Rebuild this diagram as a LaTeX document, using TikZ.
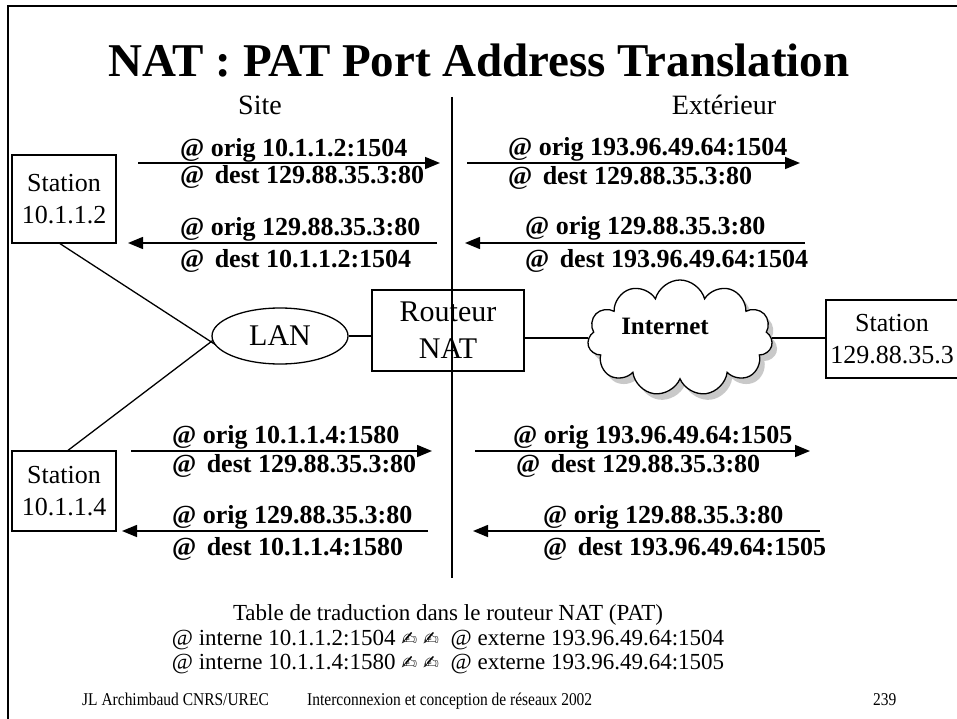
\documentclass[tikz,border=0pt]{standalone}
\usepackage{fontspec}
\setmainfont{Liberation Serif}
\newfontfamily\symb{DejaVu Sans}
\usetikzlibrary{arrows.meta,shapes.geometric,shapes.symbols,shadows,backgrounds}
\begin{document}
\begin{tikzpicture}[x=1pt,y=-1pt,
  box/.style={draw,line width=1.3pt,rectangle,inner sep=0pt,align=center,fill=white},
  lbl/.style={anchor=base west,inner sep=0pt,font=\fontsize{26}{30}\selectfont\bfseries},
  arr/.style={line width=1.5pt,-{Triangle[length=15pt,width=12pt]}},
  link/.style={line width=1.3pt},
  tbl/.style={anchor=base,inner sep=0pt,font=\fontsize{23}{26}\selectfont},
  foot/.style={anchor=base west,inner sep=0pt,font=\fontsize{18}{20}\selectfont},
  hd/.style={anchor=base,inner sep=0pt,font=\fontsize{28}{30}\selectfont}
]
\useasboundingbox (0,0) rectangle (957,719);
% frame
\coordinate (fbl) at (8,719);
\coordinate (ftl) at (8,6);
\coordinate (ftr) at (957,6);
\draw[line width=1.5pt] (fbl) -- (ftl) -- (ftr);

% title and headings
\node[anchor=base,inner sep=0pt,font=\fontsize{47}{50}\selectfont\bfseries] (title) at (479,77) {NAT : PAT Port Address Translation};
\node[hd] (site) at (260,115) {Site};
\node[hd] (ext) at (724,115) {Extérieur};

% nodes
\node[box,minimum width=104,minimum height=88,font=\fontsize{26}{32}\selectfont] (s1) at (64,199) {Station\\10.1.1.2};
\node[box,minimum width=104,minimum height=80,font=\fontsize{26}{32}\selectfont] (s2) at (64,491) {Station\\10.1.1.4};
\node[box,minimum width=132,minimum height=78,font=\fontsize{26}{32}\selectfont] (s3) at (892,339) {Station\\129.88.35.3};
\node[draw,ellipse,line width=1.3pt,minimum width=136,minimum height=56,inner sep=0pt,fill=white,font=\fontsize{30}{34}\selectfont] (lan) at (280,336) {LAN};
\node[box,minimum width=152,minimum height=81,font=\fontsize{30}{37}\selectfont] (router) at (448,330.5) {Routeur\\NAT};
\node[cloud,cloud puffs=11,aspect=1.6,draw,line width=1.3pt,fill=white,minimum width=185,minimum height=116,inner sep=0pt,
  drop shadow={shadow xshift=5pt,shadow yshift=-6pt,fill=gray!85}] (cloud) at (680,338) {};
\node[anchor=base,inner sep=0pt,font=\fontsize{25}{28}\selectfont\bfseries] (inet) at (665,334) {Internet};

% links (behind shapes)
\coordinate (lanA) at (216,345);
\coordinate (lanB) at (216,338);
\begin{scope}[on background layer]
\draw[link] ([xshift=-4pt]s1.south) -- (lanA);
\draw[link] ([xshift=4pt]s2.north) -- (lanB);
\draw[link] (lan.east) -- (router.west |- lan.east);
\draw[link] (router.east |- cloud.west) -- (cloud.west);
\draw[link] (cloud.east) -- (s3.west |- cloud.east);
\end{scope}

% separator
\coordinate (vtop) at (452,97);
\coordinate (vbot) at (452,578);
\draw[link] (vtop) -- (vbot);

% arrows
\coordinate (a1s) at (138,163); \coordinate (a1e) at (440,163);
\coordinate (a2s) at (437,243); \coordinate (a2e) at (128,243);
\coordinate (a3s) at (467,163); \coordinate (a3e) at (800,163);
\coordinate (a4s) at (805,243); \coordinate (a4e) at (465,243);
\coordinate (a5s) at (131,451); \coordinate (a5e) at (432,451);
\coordinate (a6s) at (428,531); \coordinate (a6e) at (122,531);
\coordinate (a7s) at (475,451); \coordinate (a7e) at (810,451);
\coordinate (a8s) at (820,531); \coordinate (a8e) at (473,531);
\draw[arr] (a1s) -- (a1e);
\draw[arr] (a2s) -- (a2e);
\draw[arr] (a3s) -- (a3e);
\draw[arr] (a4s) -- (a4e);
\draw[arr] (a5s) -- (a5e);
\draw[arr] (a6s) -- (a6e);
\draw[arr] (a7s) -- (a7e);
\draw[arr] (a8s) -- (a8e);

% labels
\node[lbl] (l1o) at (180,157) {@ orig 10.1.1.2:1504};
\node[lbl] (l1d) at (180,184) {@\hspace{0.4em}dest 129.88.35.3:80};
\node[lbl] (l2o) at (180,235) {@ orig 129.88.35.3:80};
\node[lbl] (l2d) at (180,267) {@\hspace{0.4em}dest 10.1.1.2:1504};
\node[lbl] (l3o) at (508,156) {@ orig 193.96.49.64:1504};
\node[lbl] (l3d) at (508,185) {@\hspace{0.4em}dest 129.88.35.3:80};
\node[lbl] (l4o) at (525,234) {@ orig 129.88.35.3:80};
\node[lbl] (l4d) at (525,267) {@\hspace{0.4em}dest 193.96.49.64:1504};
\node[lbl] (l5o) at (172,443) {@ orig 10.1.1.4:1580};
\node[lbl] (l5d) at (172,472) {@\hspace{0.4em}dest 129.88.35.3:80};
\node[lbl] (l6o) at (172,523) {@ orig 129.88.35.3:80};
\node[lbl] (l6d) at (172,555) {@\hspace{0.4em}dest 10.1.1.4:1580};
\node[lbl] (l7o) at (513,443) {@ orig 193.96.49.64:1505};
\node[lbl] (l7d) at (516,472) {@\hspace{0.4em}dest 129.88.35.3:80};
\node[lbl] (l8o) at (543,523) {@ orig 129.88.35.3:80};
\node[lbl] (l8d) at (543,555) {@\hspace{0.4em}dest 193.96.49.64:1505};

% table
\node[tbl] (t1) at (448,620) {Table de traduction dans le routeur NAT (PAT)};
\node[tbl] (t2) at (448,645) {@ interne 10.1.1.2:1504 {\symb\fontsize{19}{19}\selectfont ✍\ ✍}\ \ @ externe 193.96.49.64:1504};
\node[tbl] (t3) at (448,669) {@ interne 10.1.1.4:1580 {\symb\fontsize{19}{19}\selectfont ✍\ ✍}\ \ @ externe 193.96.49.64:1505};

% footer
\node[foot] (f1) at (82,705) {\scalebox{0.86}[1]{JL Archimbaud CNRS/UREC}};
\node[foot] (f2) at (307,705) {\scalebox{0.86}[1]{Interconnexion et conception de réseaux 2002}};
\node[foot] (f3) at (873,705) {\scalebox{0.86}[1]{239}};
\end{tikzpicture}
\end{document}
